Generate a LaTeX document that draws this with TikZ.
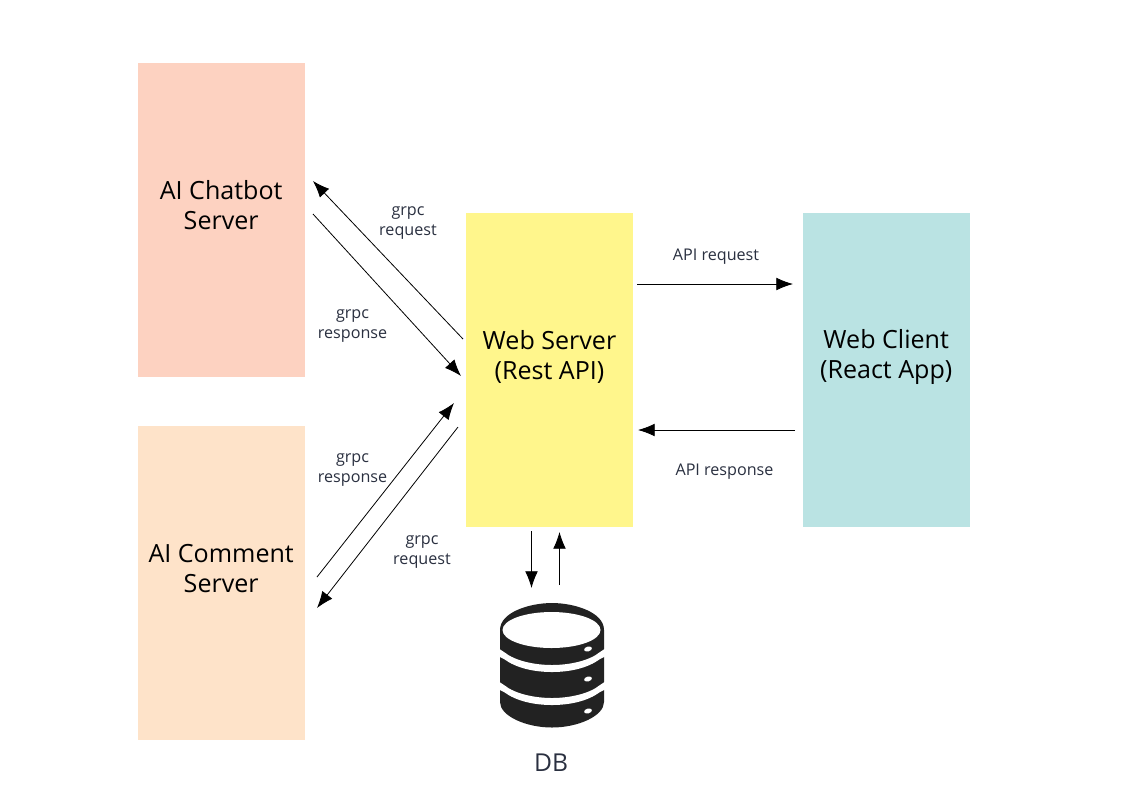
\documentclass[tikz,border=0pt]{standalone}
\usepackage{fontspec}
\setmainfont{Open Sans}
\usetikzlibrary{arrows.meta}
\definecolor{chatc}{HTML}{FDD2C1}
\definecolor{commc}{HTML}{FEE3C9}
\definecolor{webc}{HTML}{FFF68C}
\definecolor{clientc}{HTML}{BAE3E3}
\definecolor{dbc}{HTML}{222222}
\definecolor{labc}{HTML}{2A3040}
\tikzset{
  box/.style={draw=none,inner sep=0pt,minimum width=125.2pt,minimum height=235pt,align=center,
    font=\fontsize{18.8}{22.5}\selectfont,text=black},
  lab/.style={align=center,font=\fontsize{12.1}{15}\selectfont,text=labc},
  conn/.style={draw=black,line width=0.6pt,-{Latex[length=12.5pt,width=9.5pt]}}
}
\begin{document}
\begin{tikzpicture}[x=0.75pt,y=-0.75pt]
\useasboundingbox (0,0) rectangle (1123,794);
\fill[white] (0,0) rectangle (1123,794);
\node[box,fill=chatc] (chat) at (221.2,220) {AI Chatbot\\Server\\\mbox{}};
\node[box,fill=commc] (comm) at (221.2,583) {AI Comment\\Server\\[-1pt]\mbox{}};
\node[box,fill=webc] (web) at (549.5,370) {Web Server\\(Rest API)\\[-0.5pt]\mbox{}};
\node[box,fill=clientc] (client) at (886.2,370) {Web Client\\(React App)\\[1.5pt]\mbox{}};
% connector ends
\coordinate (a1) at (463,339); \coordinate (a2) at (313,181);
\coordinate (b1) at (313,214); \coordinate (b2) at (461,376);
\coordinate (c1) at (317,577); \coordinate (c2) at (454,403);
\coordinate (d1) at (458,427); \coordinate (d2) at (317,608);
\coordinate (e1) at (637,284); \coordinate (e2) at (793,284);
\coordinate (f1) at (795,430); \coordinate (f2) at (638,430);
\coordinate (g1) at (531.5,531); \coordinate (g2) at (531.5,588);
\coordinate (h1) at (559.5,585); \coordinate (h2) at (559.5,532);
\draw[conn] (a1) -- (a2);
\draw[conn] (b1) -- (b2);
\draw[conn] (c1) -- (c2);
\draw[conn] (d1) -- (d2);
\draw[conn] (e1) -- (e2);
\draw[conn] (f1) -- (f2);
\draw[conn] (g1) -- (g2);
\draw[conn] (h1) -- (h2);
\node[lab] (l1) at (408,223) {grpc\\request};
\node[lab] (l2) at (352.5,326) {grpc\\response};
\node[lab] (l3) at (352.5,470) {grpc\\response};
\node[lab] (l4) at (422,552) {grpc\\request};
\node[lab] (l5) at (716,257) {API request};
\node[lab] (l6) at (724.5,472) {API response};
% database icon
\fill[dbc] (500,630) .. controls (500,612) and (530,603) .. (552,603) .. controls (574,603) and (604,612) .. (604,630)
  -- (604,702) .. controls (604,716) and (578,727.5) .. (552,727.5) .. controls (526,727.5) and (500,716) .. (500,702) -- cycle;
\fill[white] (551.5,630) ellipse [x radius=49,y radius=18];
\fill[white] (498,648) -- (504,652) .. controls (515,661) and (535,665) .. (552,665) .. controls (569,665) and (589,661) .. (600,652) -- (606,648)
  -- (606,656) -- (600,659) .. controls (588,668) and (570,672) .. (552,672) .. controls (534,672) and (516,668) .. (504,659) -- (498,656) -- cycle;
\fill[white] (498,681) -- (504,685) .. controls (515,694) and (535,698) .. (552,698) .. controls (569,698) and (589,694) .. (600,685) -- (606,681)
  -- (606,689) -- (600,692) .. controls (588,701) and (570,705) .. (552,705) .. controls (534,705) and (516,701) .. (504,692) -- (498,689) -- cycle;
\fill[white,rotate around={15:(588,649)}] (588,649) ellipse [x radius=4,y radius=2.4];
\fill[white,rotate around={15:(588,679)}] (588,679) ellipse [x radius=4,y radius=2.4];
\fill[white,rotate around={15:(588,711)}] (588,711) ellipse [x radius=4,y radius=2.4];
\node[font=\fontsize{18.5}{22}\selectfont,text=labc] (db) at (551,763) {DB};
\end{tikzpicture}
\end{document}
